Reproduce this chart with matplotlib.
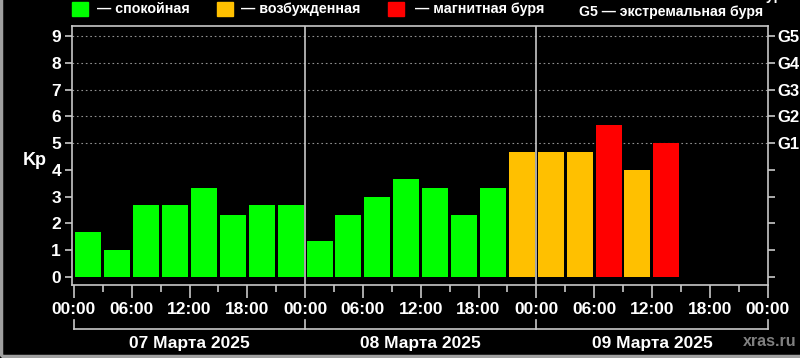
import matplotlib
matplotlib.use("Agg")
import matplotlib.pyplot as plt
import matplotlib.patches as mpatches
import matplotlib.transforms as mtransforms
import numpy as np

plt.rcParams['font.family'] = ['Liberation Sans', 'DejaVu Sans']

# ---- data ----
days = ["07 Марта 2025", "08 Марта 2025", "09 Марта 2025"]
kp = [1.67, 1.0, 2.67, 2.67, 3.33, 2.33, 2.67, 2.67,
      1.33, 2.33, 3.0, 3.67, 3.33, 2.33, 3.33, 4.67,
      4.67, 4.67, 5.67, 4.0, 5.0]
hour_labels = ["00:00", "06:00", "12:00", "18:00"] * 3 + ["00:00"]
g_labels = ["G1", "G2", "G3", "G4", "G5"]
legend_names = ["— спокойная", "— возбужденная", "— магнитная буря"]

GREEN = "#00ff00"
ORANGE = "#ffc000"
RED = "#ff0000"
GRAY = "#c8c8c8"


def color_kp(v):
    if v >= 5:
        return RED
    if v >= 4:
        return ORANGE
    return GREEN


fig = plt.figure(figsize=(8, 3.58), dpi=100, facecolor="black")
ax = fig.add_axes([0.09, 0.204, 0.87, 0.723])
ax.set_facecolor("black")

x = np.arange(len(kp)) * 3 + 1.5
ax.bar(x, kp, width=2.7, color=[color_kp(v) for v in kp], edgecolor="none", zorder=3)

ax.set_xlim(-0.2, 72.05)
ax.set_ylim(-0.3, 9.37)

# dotted grid for storm levels
for lv in range(5, 10):
    ax.axhline(lv, color="#909090", linestyle=(0, (1.5, 2.5)), linewidth=0.8, zorder=1)
# day separators
for d in (24, 48):
    ax.axvline(d, color=GRAY, linewidth=1.2, zorder=2)

for s in ax.spines.values():
    s.set_color(GRAY)
    s.set_linewidth(1.2)

FS = 12.5
ax.set_yticks(range(10))
ax.set_yticklabels([str(i) for i in range(10)], fontsize=FS, fontweight="bold")
ax.set_xticks(np.arange(0, 73, 6))
ax.set_xticklabels(hour_labels, fontsize=FS, fontweight="bold")
ax.set_xticks(np.arange(3, 72, 6), minor=True)
ax.tick_params(axis="y", which="major", colors=GRAY, length=5, width=1.2, pad=3)
ax.tick_params(axis="x", which="major", colors=GRAY, length=9, width=1.2, pad=3)
ax.tick_params(axis="x", which="minor", colors=GRAY, length=5, width=1.2)
for lab in ax.get_xticklabels() + ax.get_yticklabels():
    lab.set_color("white")

ax2 = ax.twinx()
ax2.set_ylim(ax.get_ylim())
ax2.set_yticks(range(10))
ax2.set_yticklabels([""] * 5 + g_labels, fontsize=12, fontweight="bold")
ax2.tick_params(axis="y", colors=GRAY, length=5, width=1.2, pad=2)
for lab in ax2.get_yticklabels():
    lab.set_color("white")
for s in ax2.spines.values():
    s.set_visible(False)

ax.text(-0.053, 0.48, "Kp", transform=ax.transAxes, color="white", fontsize=13,
        fontweight="bold", ha="center", va="center")

# day brackets below the axis
trans = mtransforms.blended_transform_factory(ax.transData, ax.transAxes)
ax.plot([0, 72], [-0.17, -0.17], color=GRAY, linewidth=1.2, transform=trans, clip_on=False)
for d in (0, 24, 48, 72):
    ax.plot([d, d], [-0.17, -0.135], color=GRAY, linewidth=1.2, transform=trans, clip_on=False)
for i, name in enumerate(days):
    ax.text(i * 24 + 12, -0.225, name, transform=trans, color="white", fontsize=FS,
            fontweight="bold", ha="center", va="center")

W, H = 800.0, 358.0
fig.text(797 / W, 1 - 342 / H, "xras.ru", color="#808080", fontsize=11.5, fontweight="bold",
         ha="right", va="center")

# legend on top
for (x0, c), name, tx in zip([(72, GREEN), (217, ORANGE), (388, RED)], legend_names, [97, 241, 415]):
    fig.patches.append(mpatches.Rectangle((x0 / W, 1 - 16 / H), 16 / W, 14 / H,
                                          transform=fig.transFigure, color=c))
    fig.text(tx / W, 1 - 9 / H, name, color="white", fontsize=10.3, fontweight="bold",
             ha="left", va="center")
fig.text(763 / W, 1 - 12 / H, "G5 — экстремальная буря", color="white", fontsize=10.2,
         fontweight="bold", ha="right", va="center")
# line above, mostly outside the picture (as in the original crop)
fig.text(790 / W, 1 + 4 / H, "G4 — очень сильная буря", color="white", fontsize=10.2,
         fontweight="bold", ha="right", va="center")

# outer frame (only left and bottom edges fall inside the picture)
fig.patches.append(mpatches.Rectangle((1 / W, 2 / H), 1.2, 1.2, transform=fig.transFigure,
                                      fill=False, edgecolor="#a0a0a0", linewidth=2.5))

fig.savefig("out.png", dpi=100, facecolor="black")
